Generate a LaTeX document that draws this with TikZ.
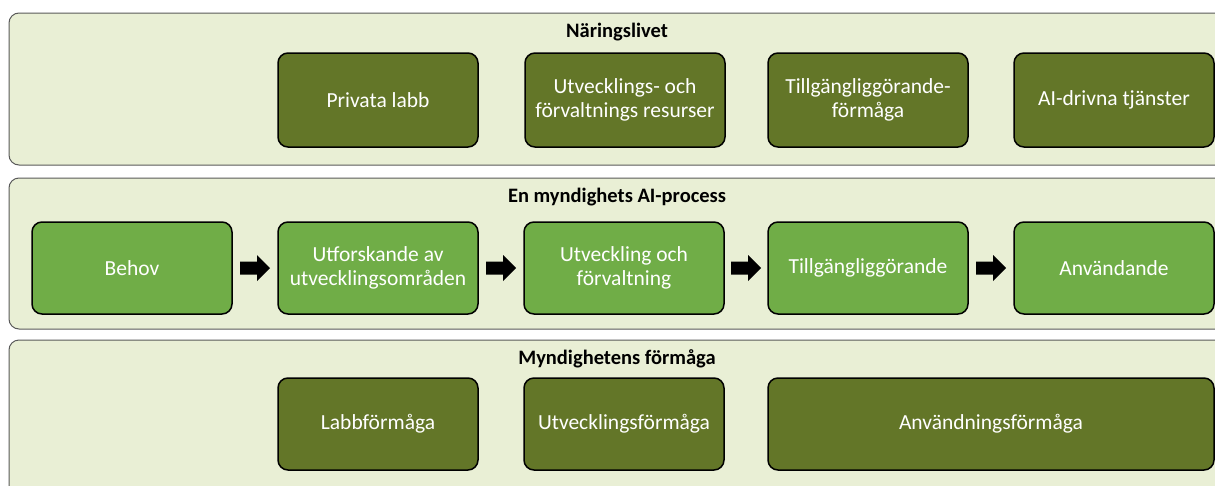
\documentclass[tikz,border=0pt]{standalone}
\usepackage{fontspec}
\setmainfont{Carlito}
\usetikzlibrary{calc}
\definecolor{bandfill}{HTML}{E9EFD5}
\definecolor{bandline}{HTML}{5A5A5A}
\definecolor{darkgreen}{HTML}{637628}
\definecolor{lightgreen}{HTML}{70AD47}
\tikzset{
  band/.style={draw=bandline, line width=1pt, fill=bandfill, rounded corners=10pt},
  bandtitle/.style={font=\fontsize{20.5}{24}\selectfont\bfseries, text=black, inner sep=0pt},
  boxbase/.style={draw=black, line width=1.5pt, rounded corners=10pt, text=white,
    align=center, font=\fontsize{21.5}{24}\selectfont, minimum width=200pt, inner sep=2pt},
  darkbox/.style={boxbase, fill=darkgreen, minimum height=94pt},
  lightbox/.style={boxbase, fill=lightgreen, minimum height=92pt},
  blockarrow/.style={fill=black}
}
\newcommand{\blockarrowat}[1]{%
  \fill[blockarrow] (#1) ++(-15,-6.5) -- ++(17,0) -- ++(0,-6.5) -- ++(13,13)
    -- ++(-13,13) -- ++(0,-6.5) -- ++(-17,0) -- cycle;}
\begin{document}
\begin{tikzpicture}[x=1pt,y=-1pt]
\useasboundingbox (0,0) rectangle (1215,485);
\clip (0,0) rectangle (1215,485);
\fill[white] (0,0) rectangle (1215,485);
% bands
\draw[band] (9,13) rectangle (1226,165);
\draw[band] (9,178) rectangle (1226,329);
\draw[band] (9,340) rectangle (1226,500);
% titles
\node[bandtitle] (t1) at (617,32) {Näringslivet};
\node[bandtitle] (t2) at (617,197) {En myndighets AI-process};
\node[bandtitle] (t3) at (617,359) {Myndighetens förmåga};
% row 1
\node[darkbox] (privata) at (378,100) {Privata labb};
\node[darkbox] (utvres) at (625,100) {Utvecklings- och\\förvaltnings resurser};
\node[darkbox] (tillgf) at (868,100) {Tillgängliggörande-\\förmåga};
\node[darkbox] (aidriv) at (1114,100) {AI-drivna tjänster};
% row 2
\node[lightbox] (behov) at (132,268) {Behov};
\node[lightbox] (utfor) at (378,268) {Utforskande av\\utvecklingsområden};
\node[lightbox] (utveck) at (624,268) {Utveckling och\\förvaltning};
\node[lightbox] (tillg) at (868,268) {Tillgängliggörande};
\node[lightbox] (anv) at (1114,268) {Användande};
\coordinate (a1) at ($(behov.east)!0.5!(utfor.west)$);
\coordinate (a2) at ($(utfor.east)!0.5!(utveck.west)$);
\coordinate (a3) at ($(utveck.east)!0.5!(tillg.west)$);
\coordinate (a4) at ($(tillg.east)!0.5!(anv.west)$);
\blockarrowat{a1}
\blockarrowat{a2}
\blockarrowat{a3}
\blockarrowat{a4}
% row 3
\node[darkbox, minimum height=92pt] (labb) at (378,424) {Labbförmåga};
\node[darkbox, minimum height=92pt] (utvf) at (624,424) {Utvecklingsförmåga};
\node[darkbox, minimum height=92pt, minimum width=446pt] (anvf) at (991,424) {Användningsförmåga};
\end{tikzpicture}
\end{document}
